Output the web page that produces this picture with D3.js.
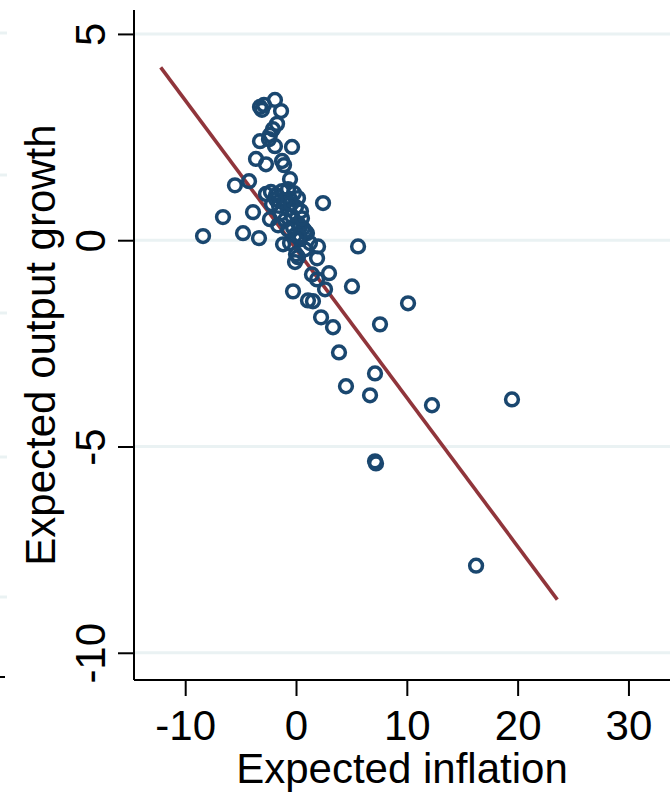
<!DOCTYPE html>
<html><head><meta charset="utf-8">
<script src="https://cdn.jsdelivr.net/npm/d3@7"></script>
<style>body{margin:0;background:#fff}svg{display:block}text{font-family:"Liberation Sans",Arial,sans-serif}</style>
</head><body><svg id="c" width="670" height="797"></svg>
<script>
const inflation = [-3.25,-3.07,-2.89,-1.90,-1.35,-1.71,-2.08,-2.35,-3.25,-2.44,-1.90,-0.36,-3.61,-2.71,-1.26,-1.08,-0.54,-5.51,-4.24,2.44,-6.59,-3.88,-8.39,-4.78,-3.34,
 -2.71,-2.26,-1.81,-1.26,-0.72,-0.18,0.18,-0.54,-1.08,-1.53,-2.17,-0.72,0.00,0.45,-0.36,-0.99,-2.35,-1.62,0.18,0.63,0.99,-0.09,0.36,1.26,0.81,-0.54,-1.17,0.00,1.99,5.60,
 1.90,-0.09,0.18,2.98,1.44,1.90,2.62,5.05,-0.27,1.08,1.53,10.11,2.26,7.58,3.34,3.88,7.13,4.51,6.68,12.27,19.49,7.13,7.22,16.25,
 -0.99,-1.40,0.36,0.81,-0.27,-0.72,0.54,-1.81,-0.45,0.27];
const growth = [3.23,3.16,3.28,3.40,3.13,2.82,2.69,2.55,2.40,2.45,2.28,2.26,1.97,1.84,1.92,1.82,1.48,1.33,1.43,0.90,0.56,0.68,0.10,0.17,0.05,
 1.12,1.17,1.09,1.19,1.24,1.14,1.02,1.00,0.90,0.83,0.87,0.75,0.80,0.70,0.58,0.49,0.51,0.36,0.41,0.29,0.17,0.12,0.02,-0.07,-0.22,-0.07,-0.10,-0.34,-0.15,-0.15,
 -0.44,-0.53,-0.41,-0.80,-0.83,-0.95,-1.19,-1.12,-1.24,-1.46,-1.48,-1.53,-1.87,-2.04,-2.11,-2.72,-3.23,-3.54,-3.76,-4.00,-3.86,-5.36,-5.41,-7.89,
 0.97,0.65,0.32,0.22,0.31,0.26,0.53,0.99,0.88,0.10];
const fitX = [-12.21, 23.58];
const fitY = [4.19, -8.71];
const xTicks = [-10, 0, 10, 20, 30];
const yTicks = [-10, -5, 0, 5];
const xTitle = "Expected inflation";
const yTitle = "Expected output growth";

const FONT = '"Liberation Sans",Arial,sans-serif';
const svg = d3.select("#c");
const L = 134, R = 670, T = 10, B = 680;
const x = d3.scaleLinear().domain([-14.62, 33.75]).range([L, R]);
const y = d3.scaleLinear().domain([-10.66, 5.58]).range([B, T]);
const fmt = d => String(d);

// cropped neighbour-panel remnants at far left
const stubs = [33, 175, 313, 457, 597];
svg.selectAll("line.stub").data(stubs).join("line")
  .attr("x1", 0).attr("x2", 7).attr("y1", d => d).attr("y2", d => d)
  .attr("stroke", "#eaf2f3").attr("stroke-width", 3);
svg.append("line").attr("x1", 0).attr("x2", 5).attr("y1", 677).attr("y2", 677)
  .attr("stroke", "#000").attr("stroke-width", 2);

// gridlines
svg.append("g").selectAll("line").data(yTicks).join("line")
  .attr("x1", L).attr("x2", R).attr("y1", d => y(d)).attr("y2", d => y(d))
  .attr("stroke", "#eaf2f3").attr("stroke-width", 3);

// fit line
svg.append("line")
  .attr("x1", x(fitX[0])).attr("y1", y(fitY[0]))
  .attr("x2", x(fitX[1])).attr("y2", y(fitY[1]))
  .attr("stroke", "#90353b").attr("stroke-width", 3.6);

// points
svg.append("g").selectAll("circle").data(inflation).join("circle")
  .attr("cx", (d, i) => x(d)).attr("cy", (d, i) => y(growth[i]))
  .attr("r", 6.4).attr("fill", "none")
  .attr("stroke", "#1a476f").attr("stroke-width", 3.5);

// axes
const xa = svg.append("g").attr("transform", `translate(0,${B})`)
  .call(d3.axisBottom(x).tickValues(xTicks).tickSize(16).tickPadding(14).tickFormat(fmt));
xa.select(".domain").attr("d", `M${L},0H${R}`).attr("stroke-width", 2);
xa.selectAll(".tick line").attr("stroke-width", 2);
xa.selectAll("text").attr("font-size", 42).attr("fill", "#000").attr("font-family", FONT);

const ya = svg.append("g").attr("transform", `translate(${L},0)`)
  .call(d3.axisLeft(y).tickValues(yTicks).tickSize(16).tickFormat(fmt));
ya.select(".domain").attr("d", `M0,${T}V${B}`).attr("stroke-width", 2);
ya.selectAll(".tick line").attr("stroke-width", 2);
ya.selectAll("text").attr("font-size", 42).attr("fill", "#000")
  .attr("font-family", FONT)
  .attr("x", 0).attr("dy", 0).attr("text-anchor", "middle")
  .attr("transform", "translate(-29,0) rotate(-90)");

svg.append("text").attr("x", (L + R) / 2).attr("y", 783).attr("text-anchor", "middle")
  .attr("font-size", 42).attr("font-family", FONT).text(xTitle);
svg.append("text").attr("transform", `translate(55,${(T + B) / 2}) rotate(-90)`)
  .attr("text-anchor", "middle").attr("font-size", 42).attr("font-family", FONT).text(yTitle);
</script></body></html>
